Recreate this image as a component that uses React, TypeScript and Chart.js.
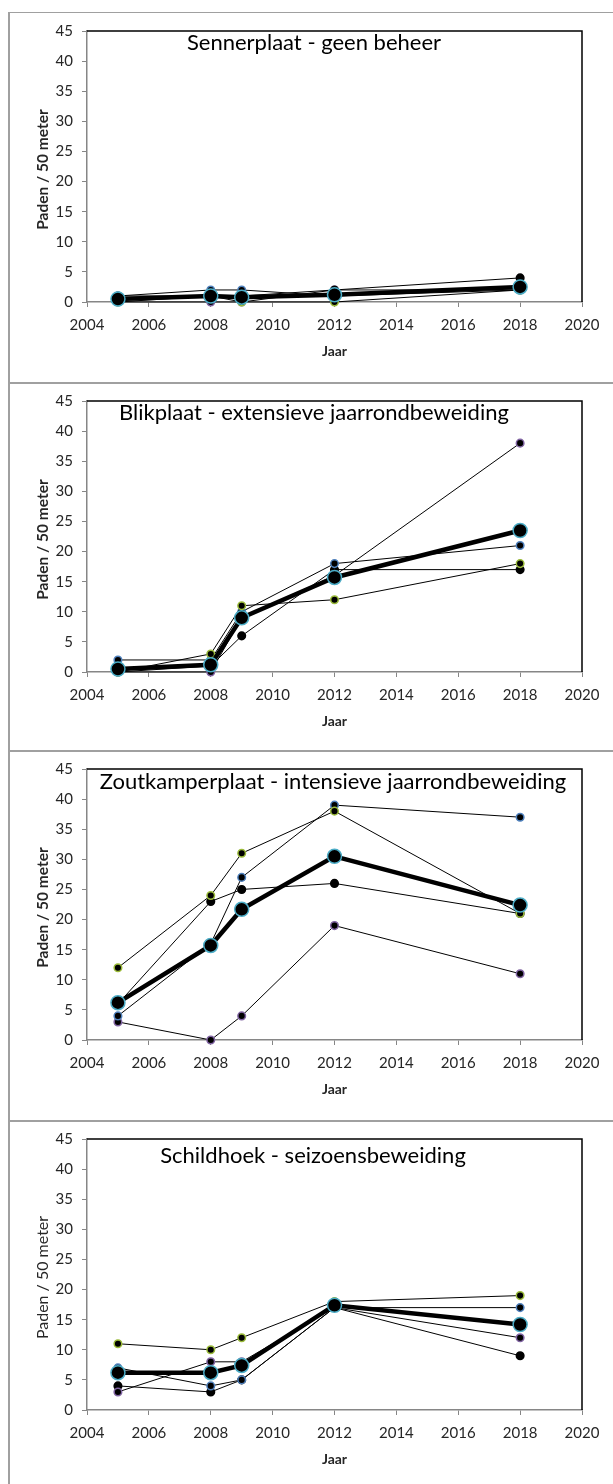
import React, { useEffect, useRef } from "react";
import { Chart, registerables } from "chart.js";
Chart.register(...registerables);

// ---- data ----
const years = [2005, 2008, 2009, 2012, 2018];
const xMin = 2004;
const xMax = 2020;
const xStep = 2;
const yMin = 0;
const yMax = 45;
const yStep = 5;

const titles = [
  "Sennerplaat - geen beheer",
  "Blikplaat - extensieve jaarrondbeweiding",
  "Zoutkamperplaat - intensieve jaarrondbeweiding",
  "Schildhoek - seizoensbeweiding",
];
const yAxisTitle = "Paden / 50 meter";
const xAxisTitle = "Jaar";

// Sennerplaat
const sennerGreen = [0, 1, 0, 0, 2];
const sennerBlue = [1, 2, 2, 1, 2];
const sennerBlack = [1, 1, 1, 2, 4];
const sennerPurple = [0, 0, 0, 2, 2];
const sennerMean = [0.5, 1, 0.8, 1.2, 2.5];

// Blikplaat
const blikGreen = [0, 3, 11, 12, 18];
const blikBlue = [2, 2, 10, 18, 21];
const blikBlack = [0, 1, 6, 17, 17];
const blikPurple = [0, 0, 9, 16, 38];
const blikMean = [0.5, 1.2, 9, 15.7, 23.5];

// Zoutkamperplaat
const zoutGreen = [12, 24, 31, 38, 21];
const zoutBlue = [4, 16, 27, 39, 37];
const zoutBlack = [6, 23, 25, 26, 21];
const zoutPurple = [3, 0, 4, 19, 11];
const zoutMean = [6.2, 15.7, 21.7, 30.5, 22.4];

// Schildhoek
const schildGreen = [11, 10, 12, 18, 19];
const schildBlue = [7, 4, 5, 17, 17];
const schildPurple = [3, 8, 8, 17, 12];
const schildBlack = [4, 3, 5, 17, 9];
const schildMean = [6.2, 6.2, 7.4, 17.4, 14.2];

const seriesColors = { green: "#9bbb3a", blue: "#4f81bd", purple: "#8064a2", black: "#000000" };
const meanBorder = "#4bacc6";

type PanelDef = {
  title: string;
  series: { values: number[]; color: string }[];
  mean: number[];
  boldY: boolean;
  titleCx: number;
  titleBase: number;
};

const panels: PanelDef[] = [
  {
    title: titles[0],
    series: [
      { values: sennerGreen, color: seriesColors.green },
      { values: sennerBlue, color: seriesColors.blue },
      { values: sennerBlack, color: seriesColors.black },
      { values: sennerPurple, color: seriesColors.purple },
    ],
    mean: sennerMean,
    boldY: true,
    titleCx: 314,
    titleBase: 19,
  },
  {
    title: titles[1],
    series: [
      { values: blikGreen, color: seriesColors.green },
      { values: blikBlue, color: seriesColors.blue },
      { values: blikBlack, color: seriesColors.black },
      { values: blikPurple, color: seriesColors.purple },
    ],
    mean: blikMean,
    boldY: true,
    titleCx: 314,
    titleBase: 19,
  },
  {
    title: titles[2],
    series: [
      { values: zoutGreen, color: seriesColors.green },
      { values: zoutBlue, color: seriesColors.blue },
      { values: zoutBlack, color: seriesColors.black },
      { values: zoutPurple, color: seriesColors.purple },
    ],
    mean: zoutMean,
    boldY: true,
    titleCx: 333,
    titleBase: 20,
  },
  {
    title: titles[3],
    series: [
      { values: schildGreen, color: seriesColors.green },
      { values: schildBlue, color: seriesColors.blue },
      { values: schildPurple, color: seriesColors.purple },
      { values: schildBlack, color: seriesColors.black },
    ],
    mean: schildMean,
    boldY: false,
    titleCx: 313,
    titleBase: 24,
  },
];

const plotTops = [31, 401, 769, 1139];
const panelTops = [12, 382, 750, 1120];
const FONT = "Lato, 'Open Sans', sans-serif";

function Panel({ def, top }: { def: PanelDef; top: number }) {
  const ref = useRef<HTMLCanvasElement>(null);
  useEffect(() => {
    const canvas = ref.current!;
    const framePlugin = {
      id: "frame",
      afterDraw(chart: any) {
        const { ctx, chartArea } = chart;
        ctx.save();
        ctx.strokeStyle = "#000";
        ctx.lineWidth = 1.5;
        ctx.beginPath();
        ctx.moveTo(chartArea.left, chartArea.top);
        ctx.lineTo(chartArea.right, chartArea.top);
        ctx.lineTo(chartArea.right, chartArea.bottom);
        ctx.stroke();
        // panel title
        ctx.fillStyle = "#000";
        ctx.font = `22px ${FONT}`;
        ctx.textAlign = "center";
        ctx.textBaseline = "alphabetic";
        ctx.fillText(def.title, def.titleCx, chartArea.top + def.titleBase);
        // x axis title
        ctx.fillStyle = "#262626";
        ctx.font = `bold 14px ${FONT}`;
        ctx.textBaseline = "middle";
        ctx.fillText(xAxisTitle, (chartArea.left + chartArea.right) / 2, chartArea.bottom + 49);
        // y axis title
        ctx.translate(43, (chartArea.top + chartArea.bottom) / 2 + 3);
        ctx.rotate(-Math.PI / 2);
        ctx.font = def.boldY ? `bold 15.5px ${FONT}` : `16px ${FONT}`;
        ctx.fillText(yAxisTitle, 0, 0);
        ctx.restore();
      },
    };
    const datasets: any[] = [
      {
        data: years.map((x, i) => ({ x, y: def.mean[i] })),
        borderColor: "#000",
        borderWidth: 4.5,
        pointRadius: 7,
        pointBackgroundColor: "#000",
        pointBorderColor: meanBorder,
        pointBorderWidth: 1.5,
        clip: false,
        order: 0,
      },
      ...def.series.map((s, k) => ({
        data: years.map((x, i) => ({ x, y: s.values[i] })),
        borderColor: "#000",
        borderWidth: 1,
        pointRadius: 3.8,
        pointBackgroundColor: "#000",
        pointBorderColor: s.color,
        pointBorderWidth: 1.5,
        clip: false,
        order: 1 + k,
      })),
    ];
    const chart = new Chart(canvas, {
      type: "line",
      data: { datasets },
      plugins: [framePlugin],
      options: {
        animation: false,
        responsive: false,
        layout: { padding: { top: 31, right: 31, left: 0, bottom: 0 } },
        plugins: { legend: { display: false }, tooltip: { enabled: false }, title: { display: false } },
        scales: {
          x: {
            type: "linear",
            min: xMin,
            max: xMax,
            ticks: { stepSize: xStep, color: "#262626", font: { family: FONT, size: 15 }, padding: 9, maxRotation: 0, callback: (v: any) => String(v) },
            grid: { drawOnChartArea: false, drawTicks: true, tickLength: 5, color: "#868686" },
            border: { display: true, color: "#868686", width: 1.5 },
            title: { display: false },
            afterFit: (s: any) => { s.height = 68; },
          },
          y: {
            type: "linear",
            min: yMin,
            max: yMax,
            ticks: { stepSize: yStep, color: "#262626", font: { family: FONT, size: 15 }, padding: 9 },
            grid: { drawOnChartArea: false, drawTicks: true, tickLength: 5, color: "#868686" },
            border: { display: true, color: "#868686", width: 1.5 },
            title: { display: false },
            afterFit: (s: any) => { s.width = 87; },
          },
        },
      } as any,
    });
    return () => chart.destroy();
  }, [def]);
  return (
    <canvas
      ref={ref}
      width={613}
      height={370}
      style={{ position: "absolute", left: 0, top, width: 613, height: 370 }}
    />
  );
}

export default function App() {
  return (
    <div style={{ position: "absolute", left: 0, top: 0, width: 613, height: 1484, background: "#fff", overflow: "hidden" }}>
      <div style={{ position: "absolute", left: 8, top: 12, width: 2, height: 1472, background: "#a0a0a0" }} />
      {panelTops.map((t, i) => (
        <div key={"l" + i} style={{ position: "absolute", left: 8, top: t, width: 605, height: i === 0 ? 1 : 2, background: "#a0a0a0" }} />
      ))}
      {panels.map((p, i) => (
        <Panel key={i} def={p} top={plotTops[i] - 31} />
      ))}
    </div>
  );
}
